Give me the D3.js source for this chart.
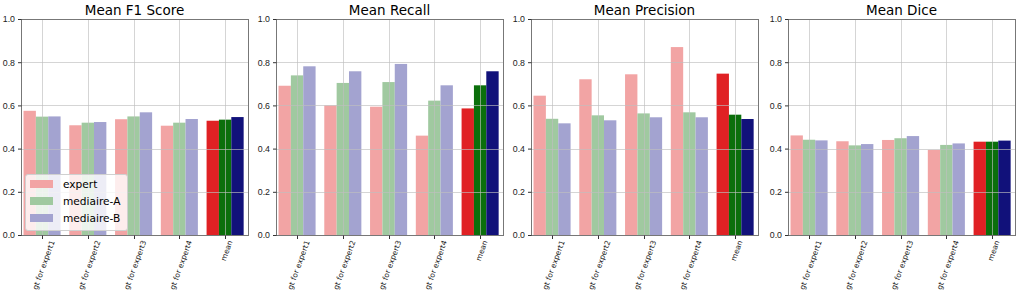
<!DOCTYPE html>
<html>
<head>
<meta charset="utf-8">
<script src="https://cdn.jsdelivr.net/npm/d3@7"></script>
<style>
  body { margin: 0; background: #fff; }
  svg { font-family: "DejaVu Sans", sans-serif; }
</style>
</head>
<body>
<div id="chart"></div>
<script>
// Data
const categories = ['gt for expert1', 'gt for expert2', 'gt for expert3', 'gt for expert4', 'mean']
const seriesNames = ['expert', 'mediaire-A', 'mediaire-B']
const titles = ['Mean F1 Score', 'Mean Recall', 'Mean Precision', 'Mean Dice']
const yTicks = [0.0, 0.2, 0.4, 0.6, 0.8, 1.0]

// one array per metric, rows = series, columns = categories
const f1Values = [
  [0.575, 0.508, 0.536, 0.506, 0.529],
  [0.548, 0.520, 0.549, 0.520, 0.534],
  [0.549, 0.523, 0.568, 0.537, 0.546]
]
const recallValues = [
  [0.691, 0.600, 0.594, 0.460, 0.586],
  [0.739, 0.704, 0.708, 0.622, 0.693],
  [0.781, 0.758, 0.792, 0.693, 0.758]
]
const precisionValues = [
  [0.645, 0.721, 0.744, 0.870, 0.747],
  [0.538, 0.554, 0.563, 0.568, 0.557],
  [0.517, 0.531, 0.545, 0.545, 0.537]
]
const diceValues = [
  [0.461, 0.434, 0.440, 0.394, 0.432],
  [0.441, 0.415, 0.448, 0.417, 0.432],
  [0.438, 0.421, 0.458, 0.424, 0.437]
]
const panels = [f1Values, recallValues, precisionValues, diceValues]

const lightColors = ['#f2a4a4', '#a0c9a0', '#a3a3d0']
const darkColors = ['#e02124', '#0b6f0b', '#11117a']

// Dimensions
const dims = { width: 1021, height: 293, top: 19, bottom: 235 }
const panelLefts = [21, 276, 531, 788]
const panelWidth = 227

const svg = d3.select('#chart')
  .append('svg')
  .attr('width', dims.width)
  .attr('height', dims.height)

const yScale = d3.scaleLinear()
  .domain([0, 1])
  .range([dims.bottom, dims.top])

panels.forEach((values, p) => {
  const left = panelLefts[p]
  const ctr = svg.append('g')

  const xScale = d3.scaleLinear()
    .domain([-0.46, 4.5])
    .range([left, left + panelWidth])
  const barWidth = xScale(0.27) - xScale(0)

  // bars
  values.forEach((row, s) => {
    ctr.selectAll(null)
      .data(row)
      .join('rect')
      .attr('x', (d, i) => xScale(i + (s - 1) * 0.27) - barWidth / 2)
      .attr('width', barWidth)
      .attr('y', d => yScale(d))
      .attr('height', d => yScale(0) - yScale(d))
      .attr('fill', (d, i) => i === categories.length - 1 ? darkColors[s] : lightColors[s])
  })

  // grid on top of bars
  const grid = ctr.append('g')
    .attr('stroke', 'rgba(190,190,190,0.65)')
    .attr('stroke-width', 1)
  grid.selectAll('line.h')
    .data(yTicks.slice(1, -1))
    .join('line')
    .attr('x1', left).attr('x2', left + panelWidth)
    .attr('y1', d => Math.round(yScale(d)) + 0.5)
    .attr('y2', d => Math.round(yScale(d)) + 0.5)
  grid.selectAll('line.v')
    .data(categories)
    .join('line')
    .attr('x1', (d, i) => Math.round(xScale(i)) + 0.5)
    .attr('x2', (d, i) => Math.round(xScale(i)) + 0.5)
    .attr('y1', dims.top).attr('y2', dims.bottom)

  // frame
  ctr.append('rect')
    .attr('x', left + 0.5)
    .attr('y', dims.top + 0.5)
    .attr('width', panelWidth)
    .attr('height', dims.bottom - dims.top)
    .attr('fill', 'none')
    .attr('stroke', '#777')
    .attr('stroke-width', 1)

  // y axis
  const yAxis = d3.axisLeft(yScale)
    .tickValues(yTicks)
    .tickFormat(d3.format('.1f'))
    .tickSize(3.5)
    .tickPadding(3)
  ctr.append('g')
    .attr('transform', `translate(${left + 0.5},0)`)
    .call(yAxis)
    .call(g => g.select('.domain').remove())
    .call(g => g.selectAll('line').attr('stroke', '#333'))
    .call(g => g.selectAll('text').attr('font-size', 8.8).attr('fill', '#222'))

  // x ticks
  ctr.selectAll('line.xt')
    .data(categories)
    .join('line')
    .attr('x1', (d, i) => Math.round(xScale(i)) + 0.5)
    .attr('x2', (d, i) => Math.round(xScale(i)) + 0.5)
    .attr('y1', dims.bottom + 0.5)
    .attr('y2', dims.bottom + 4)
    .attr('stroke', '#333')

  const angle = 70 * Math.PI / 180
  ctr.selectAll('text.xl')
    .data(categories)
    .join('text')
    .attr('font-size', 7.5)
    .attr('fill', '#222')
    .attr('text-anchor', 'end')
    .attr('dy', '0.35em')
    .text(d => d)
    .attr('transform', function (d, i) {
      const len = this.getComputedTextLength()
      const x = xScale(i) + len * Math.cos(angle) / 2 + 1.5
      return `translate(${x},${240.5}) rotate(-70)`
    })

  // title
  ctr.append('text')
    .attr('x', left + panelWidth / 2)
    .attr('y', 15)
    .attr('text-anchor', 'middle')
    .attr('font-size', 13.5)
    .attr('fill', '#000')
    .text(titles[p])
})

// legend in first panel
const legend = svg.append('g')
legend.append('rect')
  .attr('x', 25.5).attr('y', 174.5)
  .attr('width', 102).attr('height', 56)
  .attr('rx', 2.5)
  .attr('fill', 'rgba(255,255,255,0.8)')
  .attr('stroke', '#d0d0d0')

const entries = legend.selectAll('g')
  .data(seriesNames)
  .join('g')
  .attr('transform', (d, i) => `translate(30,${184 + i * 17})`)
entries.append('rect')
  .attr('x', 0).attr('y', -4)
  .attr('width', 23).attr('height', 8)
  .attr('fill', (d, i) => lightColors[i])
entries.append('text')
  .attr('x', 33)
  .attr('dy', '0.35em')
  .attr('font-size', 10.6)
  .attr('fill', '#000')
  .text(d => d)
</script>
</body>
</html>
